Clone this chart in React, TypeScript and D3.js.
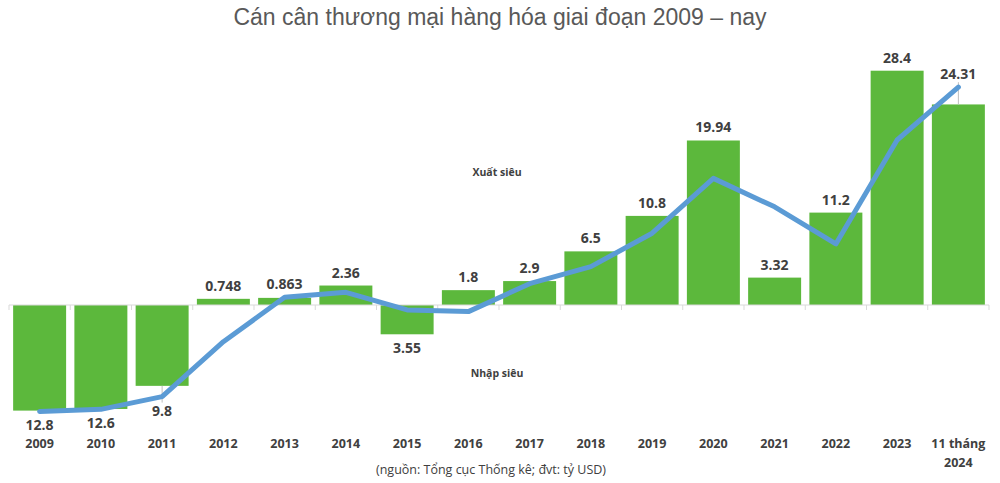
import React from "react";
import * as d3 from "d3";

const categories = ["2009","2010","2011","2012","2013","2014","2015","2016","2017","2018","2019","2020","2021","2022","2023","11 tháng\n2024"];
const balance = [-12.8, -12.6, -9.8, 0.748, 0.863, 2.36, -3.55, 1.8, 2.9, 6.5, 10.8, 19.94, 3.32, 11.2, 28.4, 24.31];
const trend = [-12.9, -12.65, -11.1, -4.45, 0.93, 1.54, -0.6, -0.8, 2.58, 4.65, 8.7, 15.35, 11.9, 7.4, 20.0, 26.4];

const title = "Cán cân thương mại hàng hóa giai đoạn 2009 – nay";
const source = "(nguồn: Tổng cục Thống kê; đvt: tỷ USD)";
const surplusLabel = "Xuất siêu";
const deficitLabel = "Nhập siêu";

const W = 1000, H = 483;
const GREEN = "#5cb83c";
const BLUE = "#5b9bd5";
const TEXT = "#404040";
const FONT = "'Open Sans', sans-serif";

export default function App() {
  const x = d3.scaleBand<string>().domain(categories).range([9, 989]).paddingInner(0.135).paddingOuter(0.0675);
  const y = d3.scaleLinear().domain([-15, 30]).range([305 + 15 * 8.25, 305 - 30 * 8.25]);
  const y0 = y(0);
  const cx = (c: string) => (x(c) as number) + x.bandwidth() / 2;

  const line = d3.line<number>().x((_, i) => cx(categories[i])).y((v) => y(v));

  // label is pushed beyond the trend line when the line passes just beyond the bar end
  const pushed = (i: number) => {
    const v = balance[i], t = trend[i];
    const beyond = v >= 0 ? t > v : t < v;
    return beyond && Math.abs(t - v) < 3;
  };
  const labelY = (i: number) => {
    const v = balance[i], t = trend[i];
    const end = pushed(i) ? t : v;
    return v >= 0 ? y(end) - 13 : y(end) + 14;
  };

  return (
    <svg width={W} height={H} style={{ position: "absolute", left: 0, top: 0, background: "#fff" }}>
      <text x={500} y={24.5} textAnchor="middle" fontFamily="'Liberation Sans', Arial, sans-serif" fontSize={23} fill="#595959">{title}</text>

      {/* bars */}
      {categories.map((c, i) => {
        const v = balance[i];
        const top = Math.min(y(v), y0);
        const h = Math.abs(y(v) - y0);
        return <rect key={c} x={x(c)} y={top} width={x.bandwidth()} height={h} fill={GREEN} />;
      })}

      {/* axis */}
      <line x1={9} x2={989} y1={y0} y2={y0} stroke="#d9d9d9" strokeWidth={1} />
      {categories.map((c, i) => {
        const bx = (x(c) as number) - (x.step() - x.bandwidth()) / 2;
        return <line key={"t" + i} x1={bx} x2={bx} y1={y0} y2={y0 + 5} stroke="#d9d9d9" strokeWidth={1} />;
      })}
      <line x1={989} x2={989} y1={y0} y2={y0 + 5} stroke="#d9d9d9" strokeWidth={1} />

      {/* leader lines */}
      {categories.map((c, i) => {
        if (!pushed(i) || Math.abs(trend[i] - balance[i]) < 0.5) return null;
        const v = balance[i];
        const end = y(v);
        const lab = v >= 0 ? labelY(i) + 8 : labelY(i) - 8;
        return <line key={"l" + i} x1={cx(c)} x2={cx(c)} y1={end} y2={lab} stroke="#bfbfbf" strokeWidth={1} />;
      })}

      {/* trend line */}
      <path d={line(trend) || ""} fill="none" stroke={BLUE} strokeWidth={5} strokeLinejoin="round" strokeLinecap="round" />

      {/* value labels */}
      {categories.map((c, i) => (
        <text key={"v" + i} x={cx(c)} y={labelY(i) + 5} textAnchor="middle" fontFamily={FONT} fontWeight={700} fontSize={14} fill={TEXT}>
          {String(Math.abs(balance[i]))}
        </text>
      ))}

      {/* category labels */}
      {categories.map((c, i) => (
        <text key={"c" + i} x={cx(c)} y={448} textAnchor="middle" fontFamily={FONT} fontWeight={700} fontSize={12.5} fill={TEXT}>
          {c.split("\n").map((s, j) => (
            <tspan key={j} x={cx(c)} dy={j === 0 ? 0 : 19}>{s}</tspan>
          ))}
        </text>
      ))}

      <text x={497} y={176} textAnchor="middle" fontFamily={FONT} fontWeight={700} fontSize={10.5} fill={TEXT}>{surplusLabel}</text>
      <text x={497} y={377} textAnchor="middle" fontFamily={FONT} fontWeight={700} fontSize={10.5} fill={TEXT}>{deficitLabel}</text>

      <text x={491} y={474} textAnchor="middle" fontFamily={FONT} fontSize={12.5} fill={TEXT}>{source}</text>
    </svg>
  );
}
